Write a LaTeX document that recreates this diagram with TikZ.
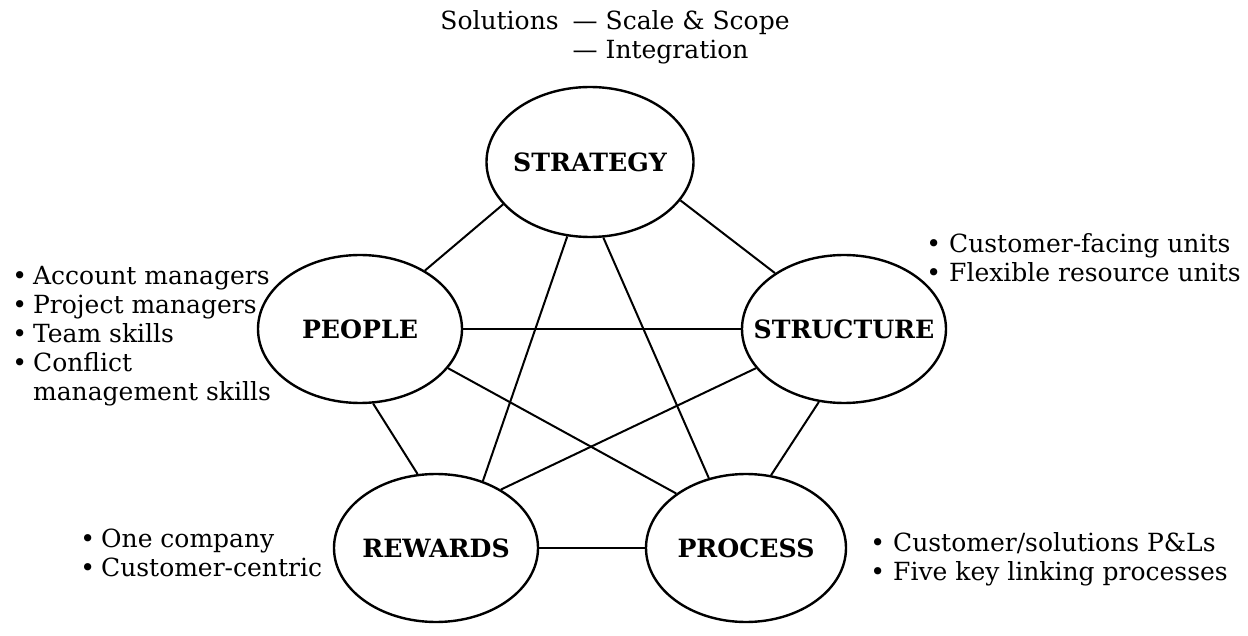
\documentclass[tikz,border=0pt]{standalone}
\usepackage{fontspec}
\setmainfont{DejaVu Serif}
\usetikzlibrary{shapes.geometric}
\tikzset{
  area/.style={ellipse, draw, line width=1.2pt, inner xsep=-10pt, inner ysep=0pt, minimum width=102pt, minimum height=74pt, font=\bfseries\fontsize{12.6}{14}\selectfont},
  link/.style={line width=1pt},
  notes/.style={inner sep=0pt, font=\fontsize{12.5}{14.5}\selectfont},
}

\begin{document}
\begin{tikzpicture}[x=0.5pt, y=-0.5pt]
	%%%%% START %%%%%
	\useasboundingbox (0,0) rectangle (1248,636);
	
	\node[area, minimum width=103.5pt, minimum height=75pt] (strategy) at (590,162) {STRATEGY};
	\node[area] (people) at (360,329) {PEOPLE};
	\node[area] (structure) at (844,329) {STRUCTURE};
	\node[area] (rewards) at (436,548) {REWARDS};
	\node[area, minimum width=100pt] (process) at (746,548) {PROCESS};
	
	\draw[link] (strategy.206) -- (people.42);
	\draw[link] (strategy.337) -- (structure.141);
	\draw[link] (strategy.253) -- (rewards.55);
	\draw[link] (strategy.280) -- (process.118);
	\draw[link] (people.0) -- (structure.180);
	\draw[link] (people.280) -- (rewards.104);
	\draw[link] (people.336) -- (process.142);
	\draw[link] (structure.204) -- (rewards.42);
	\draw[link] (structure.251) -- (process.71);
	\draw[link] (rewards.0) -- (process.180);
	
	\node[notes, anchor=base west] (solutions) at (440,30) {\begin{tabular}[t]{@{}r@{\hspace{7pt}}l@{}}
		Solutions & --- Scale \& Scope\\
		 & --- Integration
	\end{tabular}};
	
	\node[notes, anchor=base west] (peoplenotes) at (12,285) {\begin{tabular}[t]{@{}l@{\hspace{3pt}}l@{}}
		\textbullet & Account managers\\
		\textbullet & Project managers\\
		\textbullet & Team skills\\
		\textbullet & Conflict\\
		 & management skills
	\end{tabular}};
	
	\node[notes, anchor=base west] (structurenotes) at (926,253) {\begin{tabular}[t]{@{}l@{\hspace{4pt}}l@{}}
		\textbullet & Customer-facing units\\
		\textbullet & Flexible resource units
	\end{tabular}};
	
	\node[notes, anchor=base west] (rewardsnotes) at (80,547) {\begin{tabular}[t]{@{}l@{\hspace{3pt}}l@{}}
		\textbullet & One company\\
		\textbullet & Customer-centric
	\end{tabular}};
	
	\node[notes, anchor=base west] (processnotes) at (870,551) {\begin{tabular}[t]{@{}l@{\hspace{4pt}}l@{}}
		\textbullet & Customer/solutions P\&Ls\\
		\textbullet & Five key linking processes
	\end{tabular}};
	%%%%% END %%%%%
\end{tikzpicture}
\end{document}
